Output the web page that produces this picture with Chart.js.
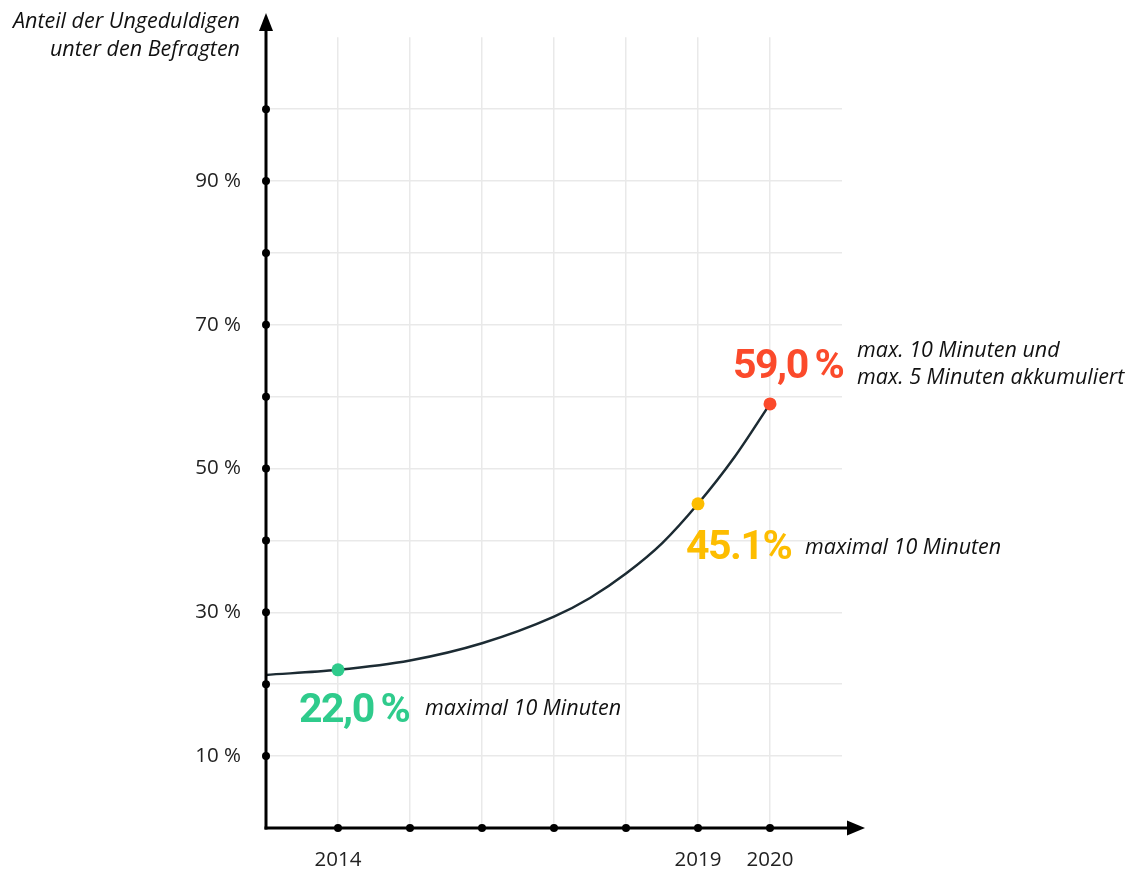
<!DOCTYPE html>
<html lang="de">
<head>
<meta charset="utf-8">
<title>Anteil der Ungeduldigen unter den Befragten</title>
<script src="https://cdn.jsdelivr.net/npm/chart.js@4/dist/chart.umd.min.js"></script>
<style>
  html, body { margin: 0; padding: 0; background: #ffffff; }
  #wrap { width: 1134px; height: 870px; }
</style>
</head>
<body>
<div id="wrap"><canvas id="chart" width="1134" height="870"></canvas></div>
<script>
// Survey curve: share of impatient respondents over time
const years  = [2013, 2014, 2015, 2016, 2017, 2017.5, 2018, 2018.5, 2019, 2019.5, 2020];
const shares = [21.3, 22.0, 23.3, 25.7, 29.4, 32.0, 35.4, 39.6, 45.1, 51.5, 59.0];

// Highlighted survey results
const markYears  = [2014, 2019, 2020];
const markValues = [22.0, 45.1, 59.0];
const markLabels = ['22,0\u2009%', '45.1%', '59,0\u2009%'];
const markNotes  = [
  ['maximal 10 Minuten'],
  ['maximal 10 Minuten'],
  ['max. 10 Minuten und', 'max. 5 Minuten akkumuliert']
];
const markColors = ['#2fcb8c', '#fdbd00', '#fb4a2b'];

// Axis labels
const xLabelYears = [2014, 2019, 2020];
const yLabelValues = [10, 30, 50, 70, 90];
const yTitle = ['Anteil der Ungeduldigen', 'unter den Befragten'];

const GRID = '#e9e9e9';
const INK = '#000000';
const TICK_FONT = '"Open Sans", "Noto Sans", sans-serif';
const NOTE_FONT = 'italic 21.5px "Open Sans", "Noto Sans", sans-serif';

// label placement relative to each highlighted point
const labelOffsets = [
  { vx: -39, vy: 52, nx: 87, ny: 45, nStep: 0 },
  { vx: -12, vy: 55, nx: 107, ny: 50, nStep: 0 },
  { vx: -37, vy: -26, nx: 87, ny: -47, nStep: 27 }
];

const axesPlugin = {
  id: 'arrowAxes',
  afterDatasetsDraw(chart) {
    const { ctx, scales: { x, y } } = chart;
    const x0 = x.getPixelForValue(2013);
    const y0 = y.getPixelForValue(0);
    ctx.save();
    ctx.strokeStyle = INK;
    ctx.fillStyle = INK;
    ctx.lineWidth = 3;
    // vertical axis
    ctx.beginPath();
    ctx.moveTo(x0, y0 + 1.5);
    ctx.lineTo(x0, 28);
    ctx.stroke();
    ctx.beginPath();
    ctx.moveTo(x0, 13);
    ctx.lineTo(x0 - 7, 31);
    ctx.lineTo(x0 + 7, 31);
    ctx.closePath();
    ctx.fill();
    // horizontal axis
    ctx.beginPath();
    ctx.moveTo(x0 - 1.5, y0);
    ctx.lineTo(850, y0);
    ctx.stroke();
    ctx.beginPath();
    ctx.moveTo(865, y0);
    ctx.lineTo(847, y0 - 7.5);
    ctx.lineTo(847, y0 + 7.5);
    ctx.closePath();
    ctx.fill();
    // tick dots
    for (let yr = 2014; yr <= 2020; yr++) {
      ctx.beginPath();
      ctx.arc(x.getPixelForValue(yr), y0, 4, 0, Math.PI * 2);
      ctx.fill();
    }
    for (let v = 10; v <= 100; v += 10) {
      ctx.beginPath();
      ctx.arc(x0, y.getPixelForValue(v), 4, 0, Math.PI * 2);
      ctx.fill();
    }
    // axis title
    ctx.font = NOTE_FONT;
    ctx.textAlign = 'right';
    ctx.textBaseline = 'alphabetic';
    ctx.fillStyle = '#111111';
    ctx.fillText(yTitle[0], 240, 28);
    ctx.fillText(yTitle[1], 240, 56);
    ctx.restore();
  },
  afterDraw(chart) {
    const { ctx, scales: { x, y } } = chart;
    ctx.save();
    ctx.textAlign = 'left';
    ctx.textBaseline = 'alphabetic';
    markYears.forEach((yr, i) => {
      const px = x.getPixelForValue(yr);
      const py = y.getPixelForValue(markValues[i]);
      const o = labelOffsets[i];
      ctx.font = 'bold 41px Roboto, "DejaVu Sans", sans-serif';
      ctx.letterSpacing = '-1.5px';
      ctx.fillStyle = markColors[i];
      ctx.fillText(markLabels[i], px + o.vx, py + o.vy);
      ctx.letterSpacing = '0px';
      ctx.font = NOTE_FONT;
      ctx.fillStyle = '#111111';
      markNotes[i].forEach((line, k) => {
        ctx.fillText(line, px + o.nx, py + o.ny + k * o.nStep);
      });
    });
    ctx.restore();
  }
};

new Chart(document.getElementById('chart'), {
  type: 'line',
  data: {
    datasets: [
      {
        type: 'scatter',
        data: markYears.map((yr, i) => ({ x: yr, y: markValues[i] })),
        pointRadius: 6.5,
        pointHoverRadius: 6.5,
        pointBackgroundColor: markColors,
        pointBorderWidth: 0,
        order: 0
      },
      {
        data: years.map((yr, i) => ({ x: yr, y: shares[i] })),
        borderColor: '#1c2b33',
        borderWidth: 2.5,
        pointRadius: 0,
        cubicInterpolationMode: 'monotone',
        fill: false,
        order: 1
      }
    ]
  },
  options: {
    responsive: false,
    animation: false,
    events: [],
    layout: { padding: { top: 36, right: 292, left: 0, bottom: 0 } },
    plugins: { legend: { display: false }, tooltip: { enabled: false } },
    scales: {
      x: {
        type: 'linear',
        min: 2013,
        max: 2021,
        afterFit(scale) { scale.height = 42; },
        border: { display: false },
        grid: {
          drawTicks: false,
          color: c => (c.tick && c.tick.value >= 2014 && c.tick.value <= 2020) ? GRID : 'rgba(0,0,0,0)',
          lineWidth: 1.5
        },
        ticks: {
          stepSize: 1,
          padding: 20,
          autoSkip: false,
          maxRotation: 0,
          color: '#222222',
          font: { family: TICK_FONT, size: 20.5 },
          callback: v => xLabelYears.includes(v) ? String(v) : ''
        }
      },
      y: {
        min: 0,
        max: 110,
        afterFit(scale) { scale.width = 266; },
        border: { display: false },
        grid: {
          drawTicks: false,
          color: c => (c.tick && c.tick.value >= 10 && c.tick.value <= 100) ? GRID : 'rgba(0,0,0,0)',
          lineWidth: 1.5
        },
        ticks: {
          stepSize: 10,
          padding: 25,
          autoSkip: false,
          color: '#222222',
          font: { family: TICK_FONT, size: 20.5 },
          callback: v => yLabelValues.includes(v) ? v + ' %' : ''
        }
      }
    }
  },
  plugins: [axesPlugin]
});
</script>
</body>
</html>
